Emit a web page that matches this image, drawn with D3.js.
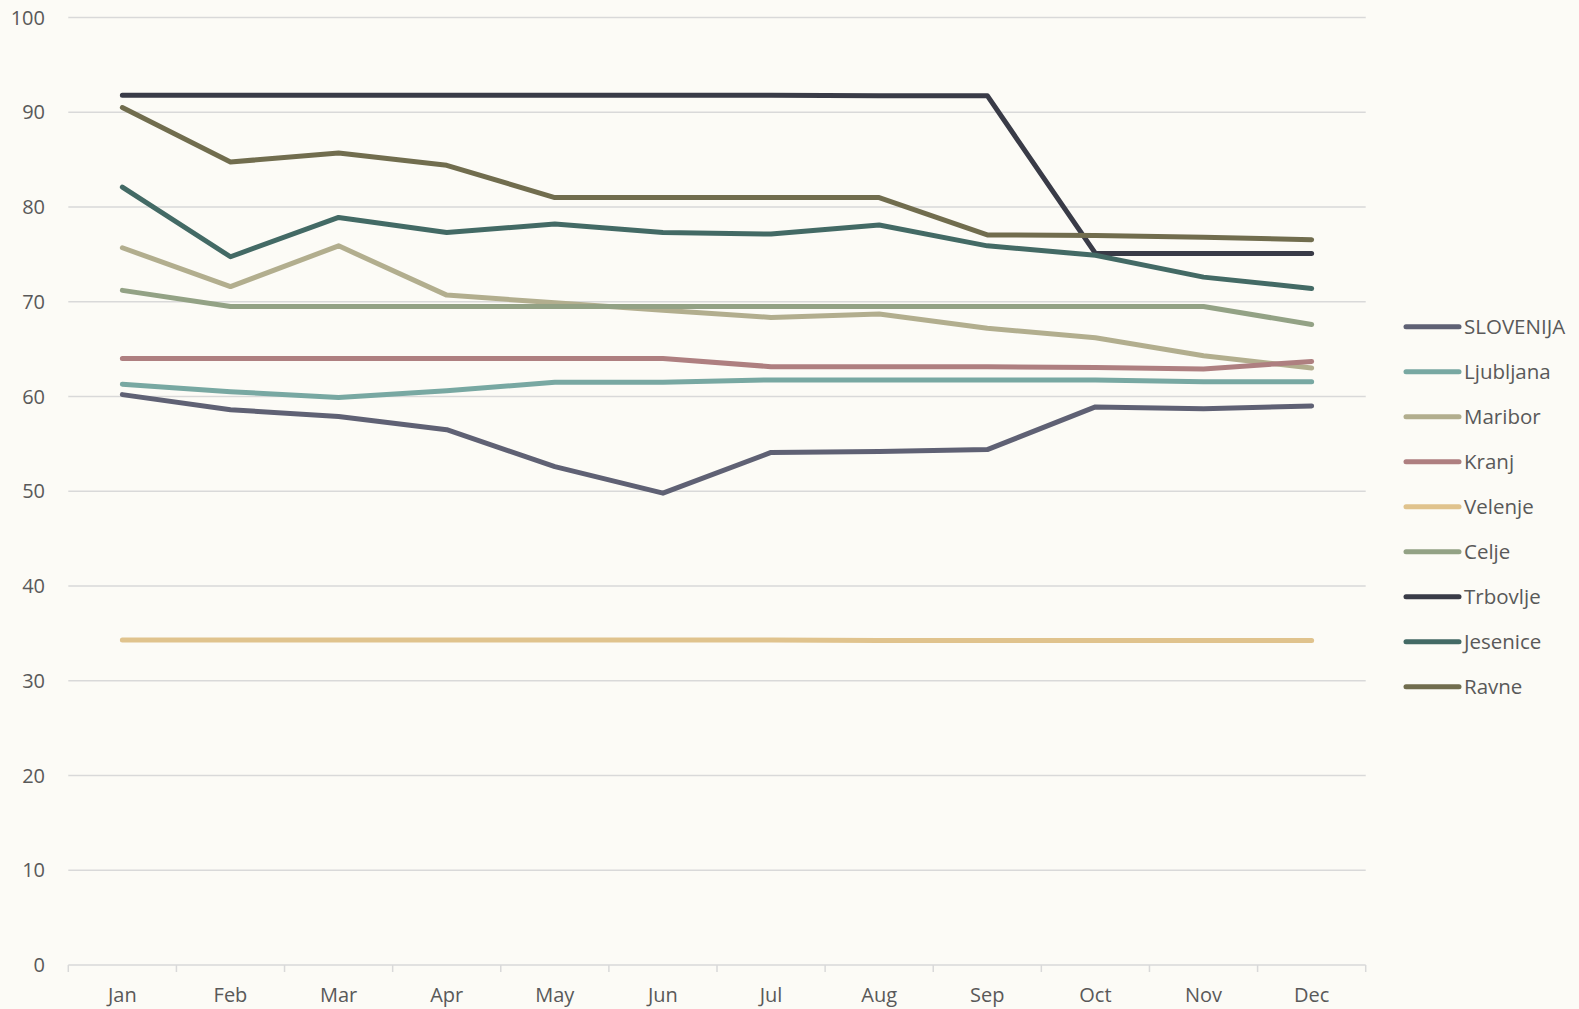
<!DOCTYPE html>
<html><head><meta charset="utf-8">
<script src="https://cdn.jsdelivr.net/npm/d3@7"></script>
<style>
html,body{margin:0;padding:0;background:#fcfbf6;}
svg{display:block;}
text{font-family:"Open Sans",sans-serif;fill:#595959;}
</style></head>
<body>
<script>
const months = ["Jan","Feb","Mar","Apr","May","Jun","Jul","Aug","Sep","Oct","Nov","Dec"];
const yTicks = [0,10,20,30,40,50,60,70,80,90,100];
const seriesNames = ["SLOVENIJA","Ljubljana","Maribor","Kranj","Velenje","Celje","Trbovlje","Jesenice","Ravne"];
const slovenija = [60.2,58.6,57.9,56.5,52.6,49.8,54.1,54.2,54.4,58.9,58.7,59.0];
const ljubljana = [61.3,60.5,59.9,60.6,61.5,61.5,61.75,61.75,61.75,61.75,61.55,61.55];
const maribor   = [75.7,71.6,75.9,70.7,69.9,69.1,68.35,68.7,67.2,66.2,64.3,63.0];
const kranj     = [64.0,64.0,64.0,64.0,64.0,64.0,63.15,63.15,63.15,63.05,62.9,63.7];
const velenje   = [34.3,34.3,34.3,34.3,34.3,34.3,34.3,34.25,34.25,34.25,34.25,34.25];
const celje     = [71.2,69.5,69.5,69.5,69.5,69.5,69.5,69.5,69.5,69.5,69.5,67.6];
const trbovlje  = [91.8,91.8,91.8,91.8,91.8,91.8,91.8,91.75,91.75,75.1,75.1,75.1];
const jesenice  = [82.1,74.75,78.9,77.3,78.2,77.3,77.15,78.1,75.9,74.9,72.6,71.4];
const ravne     = [90.5,84.75,85.7,84.4,81.0,81.0,81.0,81.0,77.05,77.0,76.8,76.55];
const colors = ["#5f6174","#78a8a2","#b2ae8e","#ae7f80","#e0c38d","#93a285","#393b47","#436a65","#716d4e"];

const seriesValues = [slovenija,ljubljana,maribor,kranj,velenje,celje,trbovlje,jesenice,ravne];
const series = seriesNames.map((n,i)=>({name:n, values:seriesValues[i], color:colors[i]}));

const W=1579,H=1009;
const mLeft=68.3, mRight=1365.7, mTop=17.5, mBottom=965;
const svg=d3.select("body").append("svg").attr("width",W).attr("height",H);
svg.append("rect").attr("width",W).attr("height",H).attr("fill","#fcfbf6");

const x=d3.scaleBand().domain(months).range([mLeft,mRight]).padding(0);
const y=d3.scaleLinear().domain([0,100]).range([mBottom,mTop]);

// gridlines
svg.append("g").selectAll("line").data(yTicks.filter(d=>d>0)).join("line")
  .attr("x1",mLeft).attr("x2",mRight).attr("y1",d=>y(d)).attr("y2",d=>y(d))
  .attr("stroke","#d9d9d9").attr("stroke-width",1.5);

// y labels
svg.append("g").selectAll("text").data(yTicks).join("text")
  .attr("x",45).attr("y",d=>y(d)).attr("dy","0.35em").attr("text-anchor","end")
  .attr("font-size",20).text(d=>d);

// x axis line and ticks
const xa=svg.append("g");
xa.append("line").attr("x1",mLeft).attr("x2",mRight).attr("y1",mBottom).attr("y2",mBottom)
  .attr("stroke","#d9d9d9").attr("stroke-width",1.5);
const tickPos = months.map(m=>x(m)).concat([x(months[months.length-1])+x.bandwidth()]);
xa.selectAll("line.t").data(tickPos).join("line").attr("class","t")
  .attr("x1",d=>d).attr("x2",d=>d).attr("y1",mBottom).attr("y2",mBottom+7)
  .attr("stroke","#d9d9d9").attr("stroke-width",1.5);
xa.selectAll("text").data(months).join("text")
  .attr("x",d=>x(d)+x.bandwidth()/2).attr("y",1002).attr("text-anchor","middle")
  .attr("font-size",20).text(d=>d);

// lines
const line=d3.line().x((d,i)=>x(months[i])+x.bandwidth()/2).y(d=>y(d));
svg.append("g").selectAll("path").data(series).join("path")
  .attr("d",d=>line(d.values)).attr("fill","none").attr("stroke",d=>d.color)
  .attr("stroke-width",5).attr("stroke-linecap","round").attr("stroke-linejoin","round");

// legend
const lg=svg.append("g").selectAll("g").data(series).join("g")
  .attr("transform",(d,i)=>`translate(0,${326.7+i*45})`);
lg.append("line").attr("x1",1406).attr("x2",1459).attr("y1",0).attr("y2",0)
  .attr("stroke",d=>d.color).attr("stroke-width",5).attr("stroke-linecap","round");
lg.append("text").attr("x",1464).attr("y",0).attr("dy","0.35em").attr("font-size",20.5)
  .text(d=>d.name);
</script>
</body></html>
